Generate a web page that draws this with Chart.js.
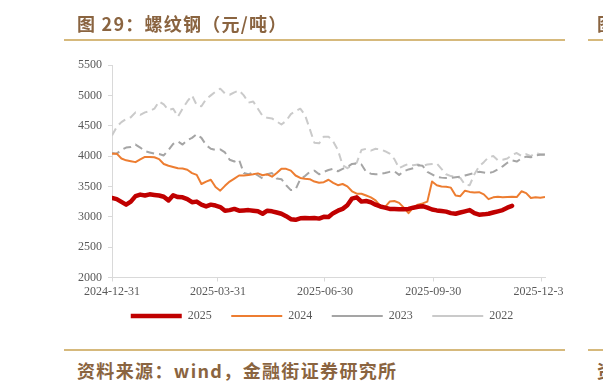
<!DOCTYPE html>
<html>
<head>
<meta charset="utf-8">
<script src="https://cdn.jsdelivr.net/npm/chart.js@4.4.0/dist/chart.umd.min.js"></script>
<style>
  body { margin: 0; width: 603px; height: 388px; overflow: hidden; background: #fff; position: relative; }
  .cap { position: absolute; left: 77px; color: #8a6440; font-family: "Noto Sans CJK SC", sans-serif; font-weight: bold; font-size: 18px; line-height: 20px; white-space: nowrap; }
  .rule { position: absolute; height: 2px; background: #d6b97c; }
  #wrap { position: absolute; left: 0; top: 0; width: 564px; height: 345px; overflow: hidden; }
</style>
</head>
<body>
<div id="wrap"><canvas id="c" width="603" height="345" style="width:603px;height:345px"></canvas></div>
<div class="cap" style="top:13px;letter-spacing:1.25px">图 29：螺纹钢（元/吨）</div>
<div class="rule" style="left:64px;width:501px;top:39px"></div>
<div class="rule" style="left:588px;width:15px;top:39px"></div>
<div class="cap" style="left:597px;top:13px">图</div>
<div class="rule" style="left:64px;width:501px;top:349px"></div>
<div class="rule" style="left:588px;width:15px;top:349px"></div>
<div class="cap" style="top:360px;letter-spacing:1.35px">资料来源：wind，金融街证券研究所</div>
<div class="cap" style="left:597px;top:360px">资</div>
<script>
// days since 2024-12-31
const days = [0, 4, 8, 12, 16, 20, 24, 28, 32, 36, 40, 44, 48, 52, 56, 60, 64, 68, 72, 76,
  80, 84, 88, 92, 96, 100, 104, 108, 112, 116, 120, 124, 128, 132, 136, 140, 144, 148, 152, 156,
  160, 164, 168, 172, 176, 180, 184, 188, 192, 196, 200, 204, 208, 212, 216, 220, 224, 228, 232, 236,
  240, 244, 248, 252, 256, 260, 264, 268, 272, 276, 280, 284, 288, 292, 296, 300, 304, 308, 312, 316,
  320, 324, 328, 332, 336, 340, 344, 348, 352, 356, 360, 364, 368];

const tickDays = [0, 90, 181, 273, 365];
const tickLabels = ["2024-12-31", "2025-03-31", "2025-06-30", "2025-09-30", "2025-12-31"];

const s2025 = [3310, 3290, 3245, 3200, 3250, 3340, 3365, 3350, 3370, 3360, 3350, 3330, 3270, 3355, 3325, 3320, 3290, 3240, 3250, 3200,
  3170, 3200, 3185, 3160, 3100, 3110, 3130, 3100, 3105, 3110, 3100, 3090, 3050, 3100, 3090, 3070, 3050, 3010, 2960, 2950,
  2975, 2980, 2975, 2980, 2970, 3000, 2995, 3060, 3100, 3130, 3190, 3300, 3320, 3250, 3260, 3240, 3200, 3170, 3150, 3130,
  3130, 3125, 3125, 3130, 3150, 3165, 3175, 3150, 3120, 3105, 3095, 3085, 3060, 3050, 3070, 3090, 3110, 3060, 3035, 3040,
  3050, 3070, 3090, 3110, 3150, 3180, null, null, null, null, null, null, null];

const s2024 = [4040, 4040, 3960, 3930, 3915, 3900, 3945, 3985, 3985, 3980, 3950, 3870, 3840, 3820, 3800, 3795, 3775, 3720, 3690, 3540,
  3580, 3610, 3490, 3430, 3510, 3580, 3630, 3680, 3680, 3690, 3700, 3715, 3685, 3700, 3660, 3720, 3790, 3790, 3760, 3680,
  3640, 3625, 3620, 3580, 3560, 3570, 3610, 3560, 3520, 3540, 3500, 3420, 3380, 3380, 3350, 3320, 3270, 3180, 3160, 3250,
  3260, 3230, 3150, 3060, 3150, 3200, 3220, 3250, 3580, 3520, 3500, 3495, 3480, 3350, 3340, 3430, 3410, 3400, 3405, 3370,
  3290, 3320, 3330, 3320, 3325, 3330, 3325, 3420, 3390, 3310, 3320, 3315, 3325];

const s2023 = [4050, 4040, 4100, 4140, 4150, 4190, 4140, 4080, 4060, 4040, 4035, 4010, 4100, 4200, 4240, 4190, 4260, 4300, 4360, 4300,
  4180, 4120, 4100, 4110, 4060, 3940, 3910, 3940, 3720, 3700, 3730, 3680, 3630, 3700, 3720, 3630, 3620, 3520, 3440, 3450,
  3620, 3670, 3740, 3760, 3700, 3740, 3770, 3790, 3750, 3790, 3820, 3870, 3880, 3860, 3740, 3710, 3700, 3705, 3720, 3740,
  3750, 3690, 3750, 3780, 3800, 3850, 3840, 3740, 3700, 3655, 3645, 3640, 3640, 3650, 3660, 3680, 3700, 3720, 3740, 3730,
  3720, 3740, 3780, 3830, 3890, 3930, 3910, 3960, 3990, 3980, 4010, 4020, 4020];

const s2022 = [4340, 4480, 4560, 4610, 4640, 4720, 4680, 4720, 4740, 4780, 4900, 4850, 4760, 4780, 4650, 4780, 4900, 5000, 4840, 4820,
  4940, 5000, 5060, 5110, 5030, 5010, 5050, 5080, 5000, 4880, 4900, 4780, 4660, 4630, 4620, 4570, 4520, 4580, 4690, 4740,
  4780, 4680, 4450, 4220, 4210, 4320, 4320, 4240, 4100, 3850, 3800, 3850, 3890, 4100, 4120, 4090, 4120, 4110, 4080, 4040,
  3950, 3800, 3840, 3870, 3850, 3860, 3840, 3860, 3870, 3880, 3790, 3700, 3670, 3660, 3640, 3530, 3520, 3700, 3830, 3900,
  3980, 4000, 3930, 3940, 3960, 4020, 4050, 4000, 4030, 4000, 4050, 4030, 4030];

const serif = "'Times New Roman', 'Liberation Serif', serif";
const grey = "#595959";
const axisGrey = "#d9d9d9";

function series(label, vals, color, width, dash, cap) {
  return {
    label: label,
    data: days.map((d, i) => ({ x: d, y: vals[i] })),
    borderColor: color,
    backgroundColor: color,
    borderWidth: width,
    borderDash: dash,
    borderCapStyle: cap,
    borderJoinStyle: "round",
    pointRadius: 0,
    tension: 0,
    spanGaps: false,
  };
}

// put the legend row where the reference has it
const legendPlace = {
  id: "legendPlace",
  afterLayout(chart) {
    const lg = chart.legend;
    lg.left = 99;
    lg.width = lg.right - lg.left;
    lg.top = 290.5;
    lg.bottom = lg.top + lg.height;
  },
};

new Chart(document.getElementById("c"), {
  type: "line",
  data: {
    datasets: [
      series("2025", s2025, "#c00000", 4.5, [], "round"),
      series("2024", s2024, "#ed7d31", 2, [], "butt"),
      series("2023", s2023, "#a5a5a5", 2, [8, 5], "butt"),
      series("2022", s2022, "#cacaca", 2, [8, 5], "butt"),
    ],
  },
  options: {
    responsive: false,
    animation: false,
    layout: { padding: { left: 78, right: 58, top: 65, bottom: 4 } },
    plugins: {
      legend: {
        position: "bottom",
        labels: {
          usePointStyle: true,
          pointStyle: "line",
          pointStyleWidth: 51,
          boxHeight: 12,
          padding: 19.5,
          color: grey,
          font: { family: serif, size: 12 },
        },
      },
      tooltip: { enabled: false },
    },
    scales: {
      x: {
        type: "linear",
        min: 0,
        max: 368,
        afterFit: (s) => { s.height = 22; },
        afterBuildTicks: (s) => { s.ticks = tickDays.map((v) => ({ value: v })); },
        ticks: {
          autoSkip: false,
          maxRotation: 0,
          padding: 3,
          color: grey,
          font: { family: serif, size: 12 },
          callback: (v, i) => tickLabels[i],
        },
        grid: { drawOnChartArea: false, tickLength: 4, color: axisGrey },
        border: { color: axisGrey },
      },
      y: {
        min: 2000,
        max: 5500,
        afterFit: (s) => { s.width = 34; },
        ticks: {
          stepSize: 500,
          padding: 6,
          color: grey,
          font: { family: serif, size: 12 },
          callback: (v) => String(v),
        },
        grid: { drawOnChartArea: false, tickLength: 4, color: axisGrey },
        border: { color: axisGrey },
      },
    },
  },
  plugins: [legendPlace],
});
</script>
</body>
</html>
